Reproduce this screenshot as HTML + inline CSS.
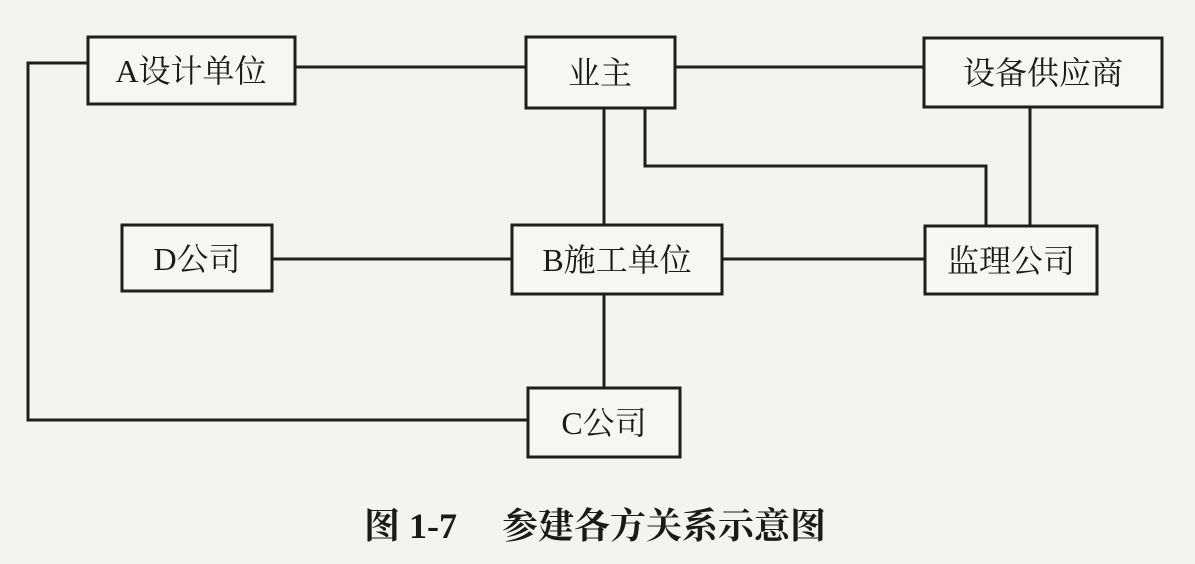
<!DOCTYPE html>
<html><head><meta charset="utf-8"><style>
html,body{margin:0;padding:0;background:#f3f3f1;}
svg{display:block}
text{font-family:"Liberation Serif","Noto Serif CJK SC",serif;fill:#1a1a1a}
</style></head><body>
<svg width="1195" height="564" viewBox="0 0 1195 564">
<rect width="1195" height="564" fill="#f3f3f1"/>
<g stroke="#1e1e1e" stroke-width="3" fill="none">
<line x1="295" y1="67" x2="526" y2="67"/>
<line x1="675" y1="67" x2="924" y2="67"/>
<line x1="604" y1="108" x2="604" y2="225"/>
<polyline points="645,108 645,166 986,166 986,225"/>
<line x1="1030" y1="107" x2="1030" y2="226"/>
<line x1="272" y1="259" x2="512" y2="259"/>
<line x1="722" y1="259" x2="925" y2="259"/>
<line x1="604" y1="294" x2="604" y2="388"/>
<polyline points="88,63 28,63 28,420 528,420"/>
<rect x="88" y="37" width="207" height="67" fill="#f6f6f4"/>
<rect x="526" y="37" width="149" height="71" fill="#f6f6f4"/>
<rect x="924" y="38" width="238" height="69" fill="#f6f6f4"/>
<rect x="122" y="225" width="150" height="66" fill="#f6f6f4"/>
<rect x="512" y="225" width="210" height="69" fill="#f6f6f4"/>
<rect x="925" y="226" width="172" height="68" fill="#f6f6f4"/>
<rect x="528" y="388" width="152" height="69" fill="#f6f6f4"/>
</g>
<g font-size="32" text-anchor="middle">
<text x="191" y="82">A设计单位</text>
<text x="600" y="84">业主</text>
<text x="1043" y="84">设备供应商</text>
<text x="197" y="270">D公司</text>
<text x="617" y="271">B施工单位</text>
<text x="1011" y="272">监理公司</text>
<text x="604" y="434">C公司</text>
</g>
<text x="595" y="538" font-size="36" font-weight="bold" text-anchor="middle">图 1-7　 参建各方关系示意图</text>
</svg>
</body></html>
